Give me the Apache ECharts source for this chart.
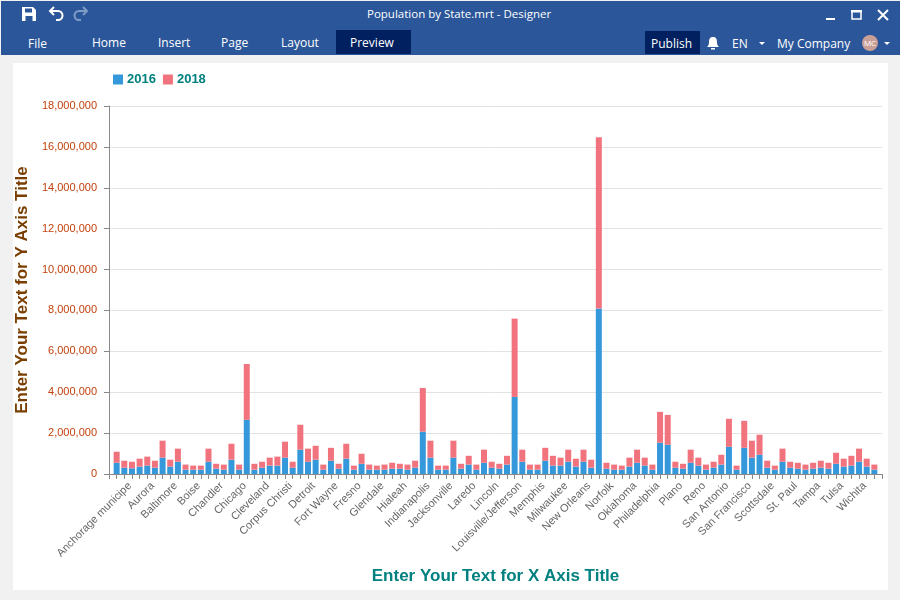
<!DOCTYPE html>
<html>
<head>
<meta charset="utf-8">
<title>Population by State.mrt - Designer</title>
<script src="https://cdn.jsdelivr.net/npm/echarts@6/dist/echarts.min.js"></script>
<style>
html,body{margin:0;padding:0;width:900px;height:600px;overflow:hidden;background:#f1f1f1;}
#bar{position:absolute;left:1px;top:1px;width:899px;height:54px;background:#2b579a;}
#panel{position:absolute;left:13px;top:63px;width:875px;height:527px;background:#fff;}
#profile{position:absolute;left:0;top:0;width:900px;height:600px;}
.t{position:absolute;color:#fff;font-family:"Open Sans",sans-serif;font-size:12px;line-height:16px;white-space:nowrap;}
.dark{position:absolute;background:#002060;}
svg{position:absolute;}
</style>
</head>
<body>
<div id="bar"></div>
<div class="dark" style="left:336px;top:30px;width:75px;height:24px"></div>
<div class="dark" style="left:645px;top:31px;width:55px;height:23px"></div>
<div class="t" style="left:367px;top:6px;font-size:11.5px">Population by State.mrt - Designer</div>
<div class="t" style="left:28px;top:36px">File</div>
<div class="t" style="left:92px;top:35px">Home</div>
<div class="t" style="left:158px;top:35px">Insert</div>
<div class="t" style="left:221px;top:35px">Page</div>
<div class="t" style="left:281px;top:35px">Layout</div>
<div class="t" style="left:350px;top:35px">Preview</div>
<div class="t" style="left:651px;top:36px">Publish</div>
<div class="t" style="left:732px;top:36px">EN</div>
<div class="t" style="left:777px;top:36px">My Company</div>
<svg width="900" height="56" style="left:0;top:0">
  <path d="M23 7h10l3 3v11H22V7z" fill="#fff"/>
  <rect x="25" y="8.5" width="7" height="4" fill="#2b579a"/>
  <rect x="25.5" y="16" width="7" height="5" fill="#2b579a"/>
  <path d="M54 7l-4 4 4 4M50 11h8a4.500 4.500 0 0 1 0 9h-2" fill="none" stroke="#fff" stroke-width="2"/>
  <path d="M83 7l4 4-4 4M87 11h-8a4.500 4.500 0 0 0 0 9h2" fill="none" stroke="#7f9cc7" stroke-width="2"/>
  <rect x="826" y="18" width="9" height="2" fill="#fff"/>
  <rect x="852" y="11" width="9" height="8" fill="none" stroke="#fff" stroke-width="1.500"/>
  <rect x="851" y="10" width="11" height="2.500" fill="#fff"/>
  <path d="M878 10l10 10M888 10l-10 10" stroke="#fff" stroke-width="2"/>
  <path d="M713 37c-3 0-4 2-4 5 0 3-1 4-2 5h12c-1-1-2-2-2-5 0-3-1-5-4-5z" fill="#fff"/>
  <rect x="711" y="48" width="4" height="1.500" fill="#fff"/>
  <path d="M759 42h6l-3 3z" fill="#fff"/>
  <path d="M884 42h6l-3 3z" fill="#fff"/>
  <circle cx="870" cy="43" r="8" fill="#c9a097"/>
  <text x="870" y="46" font-size="8" font-family="Open Sans" fill="#fff" text-anchor="middle">MC</text>
</svg>
<div id="panel"></div>
<div id="profile"></div>
<script>
var seriesNames=['2016','2018'];
var cities=['Albuquerque','Anaheim','Anchorage municipe','Arlington','Atlanta','Aurora','Austin','Bakersfield','Baltimore','Baton Rouge',
'Birmingham','Boise','Boston','Buffalo','Chandler','Charlotte','Chesapeake','Chicago','Chula Vista','Cincinnati',
'Cleveland','Colorado Springs','Columbus','Corpus Christi','Dallas','Denver','Detroit','Durham','El Paso','Fort Wayne',
'Fort Worth','Fremont','Fresno','Garland','Gilbert','Glendale','Greensboro','Henderson','Hialeah','Honolulu',
'Houston','Indianapolis','Irvine','Irving','Jacksonville','Jersey City','Kansas City','Laredo','Las Vegas','Lexington',
'Lincoln','Long Beach','Los Angeles','Louisville/Jefferson','Lubbock','Madison','Memphis','Mesa','Miami','Milwaukee',
'Minneapolis','Nashville','New Orleans','New York','Newark','Norfolk','North Las Vegas','Oakland','Oklahoma','Omaha',
'Orlando','Philadelphia','Phoenix','Pittsburgh','Plano','Portland','Raleigh','Reno','Riverside','Sacramento',
'San Antonio','San Bernardino','San Diego','San Francisco','San Jose','Santa Ana','Scottsdale','Seattle','St. Louis','St. Paul',
'St. Petersburg','Stockton','Tampa','Toledo','Tucson','Tulsa','Virginia Beach','Washington','Wichita','Winston-Salem'];
var pop2016=[550000,310000,280000,360000,410000,310000,800000,360000,600000,210000,
210000,210000,600000,260000,210000,700000,210000,2650000,210000,310000,
410000,410000,800000,310000,1190000,600000,700000,210000,650000,260000,
750000,210000,500000,210000,210000,210000,260000,260000,210000,310000,
2070000,800000,210000,210000,800000,260000,460000,210000,550000,310000,
260000,460000,3770000,600000,210000,210000,650000,410000,410000,600000,
360000,600000,310000,8090000,260000,210000,210000,360000,550000,410000,
210000,1530000,1430000,310000,260000,550000,410000,210000,310000,460000,
1330000,210000,1280000,800000,940000,310000,210000,600000,310000,260000,
210000,260000,310000,260000,500000,360000,410000,600000,360000,210000];
var pop2018=[540000,340000,320000,390000,440000,340000,830000,340000,640000,250000,
200000,200000,640000,240000,250000,780000,250000,2730000,290000,290000,
390000,440000,780000,290000,1220000,640000,680000,250000,630000,240000,
730000,200000,490000,250000,200000,250000,290000,240000,250000,340000,
2140000,830000,200000,200000,830000,240000,430000,250000,640000,290000,
240000,430000,3830000,590000,250000,250000,630000,480000,390000,590000,
390000,590000,390000,8380000,290000,250000,200000,440000,640000,390000,
250000,1510000,1460000,290000,240000,640000,390000,250000,290000,480000,
1370000,200000,1320000,830000,980000,340000,200000,640000,290000,290000,
250000,290000,340000,290000,540000,390000,480000,640000,390000,250000];
var yMax=18000000;
var yStep=2000000;

// empty slot at each end, the bars sit on the ticks
var axisCats=[''].concat(cities,['']);
function pad(arr){return [null].concat(arr,[null]);}

var myChart=echarts.init(document.getElementById('profile'));
var option={
	animation:false,
	color:['#3498db','#f1737e'],
	legend:{
		data:seriesNames,
		left:108,
		top:68,
		icon:'rect',
		itemWidth:10,
		itemHeight:10,
		itemGap:7,
		textStyle:{color:'#00807f',fontWeight:'bold',fontSize:13,fontFamily:'Liberation Sans',padding:[0,0,0,-1]}
	},
	grid:{left:109,right:18,top:106,bottom:126,containLabel:false},
	xAxis:{
		type:'category',
		boundaryGap:false,
		data:axisCats,
		name:'Enter Your Text for X Axis Title',
		nameLocation:'middle',
		nameGap:94,
		nameTextStyle:{color:'#00807f',fontWeight:'bold',fontSize:17,fontFamily:'Liberation Sans'},
		axisLine:{lineStyle:{color:'#8a8a8a',width:1}},
		axisTick:{interval:0,length:5,lineStyle:{color:'#8a8a8a'}},
		axisLabel:{
			interval:function(i){return i%3==0;},
			rotate:45,
			margin:8,
			padding:[0,3,0,0],
			color:'#666',
			fontSize:11,
			fontFamily:'Liberation Sans'
		}
	},
	yAxis:{
		type:'value',
		min:0,
		max:yMax,
		interval:yStep,
		name:'Enter Your Text for Y Axis Title',
		nameLocation:'middle',
		nameGap:73,
		nameTextStyle:{color:'#7a3e00',fontWeight:'bold',fontSize:17,fontFamily:'Liberation Sans'},
		axisLine:{show:true,lineStyle:{color:'#8a8a8a',width:1}},
		axisTick:{show:true,length:5,lineStyle:{color:'#8a8a8a'}},
		splitLine:{lineStyle:{color:'#e2e2e2'}},
		axisLabel:{
			margin:12,
			color:'#c2410c',
			fontSize:11,
			fontFamily:'Liberation Sans',
			formatter:function(v){return v.toLocaleString('en-US');}
		}
	},
	series:[
		{name:seriesNames[0],type:'bar',stack:'pop',barWidth:6,data:pad(pop2016)},
		{name:seriesNames[1],type:'bar',stack:'pop',barWidth:6,data:pad(pop2018)}
	]
};
myChart.setOption(option);
</script>
</body>
</html>
